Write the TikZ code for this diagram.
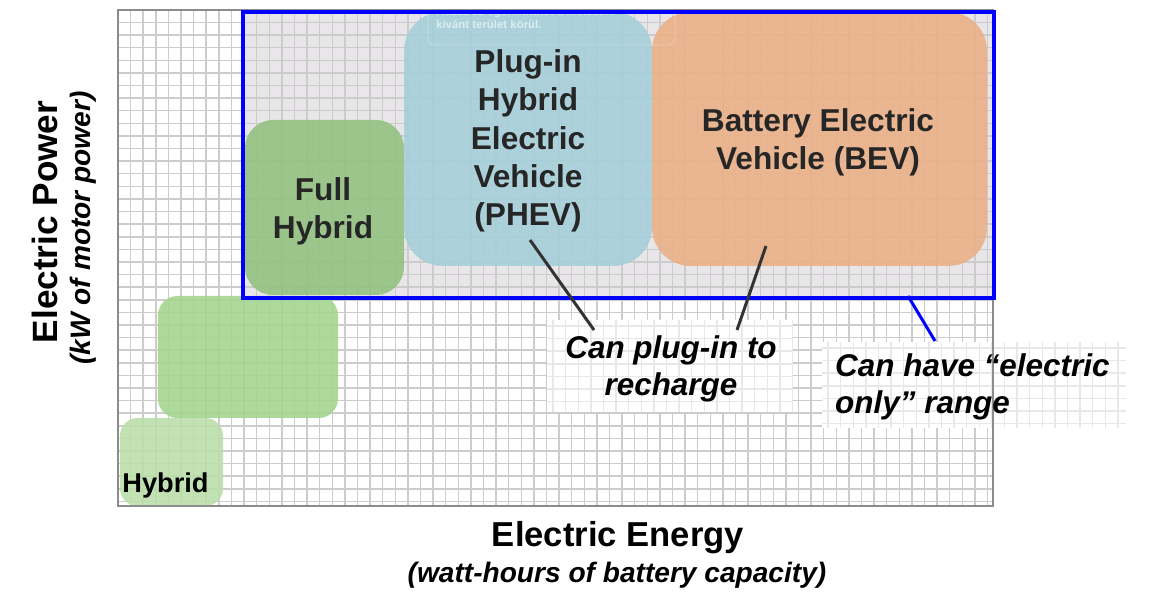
\documentclass[tikz,border=0pt]{standalone}
\usepackage{fontspec}
\setmainfont{Liberation Sans}

\definecolor{fullgreen}{RGB}{146,193,128}
\definecolor{mildgreen}{RGB}{162,212,142}
\definecolor{hybgreen}{RGB}{186,223,170}
\definecolor{phevblue}{RGB}{164,207,218}
\definecolor{bevorange}{RGB}{234,176,134}
\definecolor{zonegray}{RGB}{232,230,232}

\tikzset{
	gridline/.style={draw=black!20, line width=0.8pt},
	patchline/.style={draw=black!9, line width=0.8pt},
	carbox/.style={rounded corners=#1, fill opacity=0.88},
	cartext/.style={font=\bfseries\fontsize{18}{21.8}\selectfont, text=black!85, align=center},
	note/.style={font=\bfseries\itshape\fontsize{17.9}{20.8}\selectfont, align=center},
	pointer/.style={draw=black!80, line width=1.7pt},
}

\begin{document}
\begin{tikzpicture}[x=0.02cm, y=-0.02cm]
	\useasboundingbox (0,0) rectangle (1153,594);
	\fill [white] (0,0) rectangle (1153,594);
	% zone that can run on electricity only
	\fill [zonegray] (243,12) rectangle (993,298);
	\begin{scope}
		\clip (118,10) rectangle (993,506);
		\foreach \gx in {1,...,69} \draw [gridline] ({118+12.6*\gx},10) -- ({118+12.6*\gx},506);
		\foreach \gy in {1,...,39} \draw [gridline] (118,{10+12.6*\gy}) -- (993,{10+12.6*\gy});
	\end{scope}
	% pasted patches behind the notes
	\foreach \px/\py/\qx/\qy in {547/320/793/412, 822/342/1126/428} {
		\fill [white] (\px,\py) rectangle (\qx,\qy);
		\begin{scope}
			\clip (\px,\py) rectangle (\qx,\qy);
			\foreach \gx in {0,...,25} \draw [patchline] ({\px+6+12.6*\gx},\py) -- ({\px+6+12.6*\gx},\qy);
			\foreach \gy in {0,...,8} \draw [patchline] (\px,{\py+6+12.6*\gy}) -- (\qx,{\py+6+12.6*\gy});
		\end{scope}
	}
	% vehicle classes
	\fill [hybgreen, carbox=10pt] (120,418) rectangle (223,506);
	\fill [mildgreen, carbox=11pt] (158,296) rectangle (338,418);
	\fill [fullgreen, carbox=16pt] (245,120) rectangle (404,295);
	\fill [phevblue, carbox=22pt] (404,12) rectangle (652,266);
	\fill [bevorange, carbox=22pt] (652,12) rectangle (987,266);
	% faint snipping hint
	\draw [white, opacity=0.3, fill opacity=0.15, rounded corners=4pt] (428,-4) rectangle (675,45);
	\node [font=\bfseries\fontsize{6.5}{7.5}\selectfont, text=white, opacity=0.6, align=left, anchor=north west]
		(hint) at (430,1) {Húzza az egérmutatót a metszeni\\kívánt terület körül.};
	\draw [black!45, line width=1.3pt] (118,10) rectangle (993,506);
	\draw [blue, line width=2.3pt] (243,12) rectangle (994,298);

	\node [cartext] (full) at (323,211) {Full\\Hybrid};
	\node [cartext] (phev) at (528,141) {Plug-in\\Hybrid\\Electric\\Vehicle\\(PHEV)};
	\node [cartext] (bev) at (818,142) {Battery Electric\\Vehicle (BEV)};
	\node [font=\bfseries\fontsize{15.5}{18}\selectfont, anchor=south west, inner sep=0pt] (hybrid) at (122,499) {Hybrid};

	\node [note] (plug) at (671,369) {Can plug-in to\\recharge};
	\node [note, align=left, anchor=west] (elec) at (829,387) {Can have “electric\\only” range};

	\coordinate (phevpt) at (530,240);
	\coordinate (bevpt) at (766,246);
	\coordinate (zonept) at (908,296);
	\coordinate (plugl) at (594,330);
	\coordinate (plugr) at (737,330);
	\coordinate (elecpt) at (935,341);
	\draw [pointer] (phevpt) -- (plugl);
	\draw [pointer] (bevpt) -- (plugr);
	\draw [blue, line width=1.7pt] (zonept) -- (elecpt);

	% axis titles
	\node [font=\bfseries\fontsize{19.7}{23}\selectfont] (energy) at (618,538) {Electric Energy};
	\node [font=\bfseries\itshape\fontsize{16}{19}\selectfont] (energysub) at (617,575) {(watt-hours of battery capacity)};
	\node [font=\bfseries\fontsize{20}{23}\selectfont, rotate=90] (power) at (45,222) {Electric Power};
	\node [font=\bfseries\itshape\fontsize{16}{19}\selectfont, rotate=90] (powersub) at (83,228) {(kW of motor power)};
\end{tikzpicture}
\end{document}
